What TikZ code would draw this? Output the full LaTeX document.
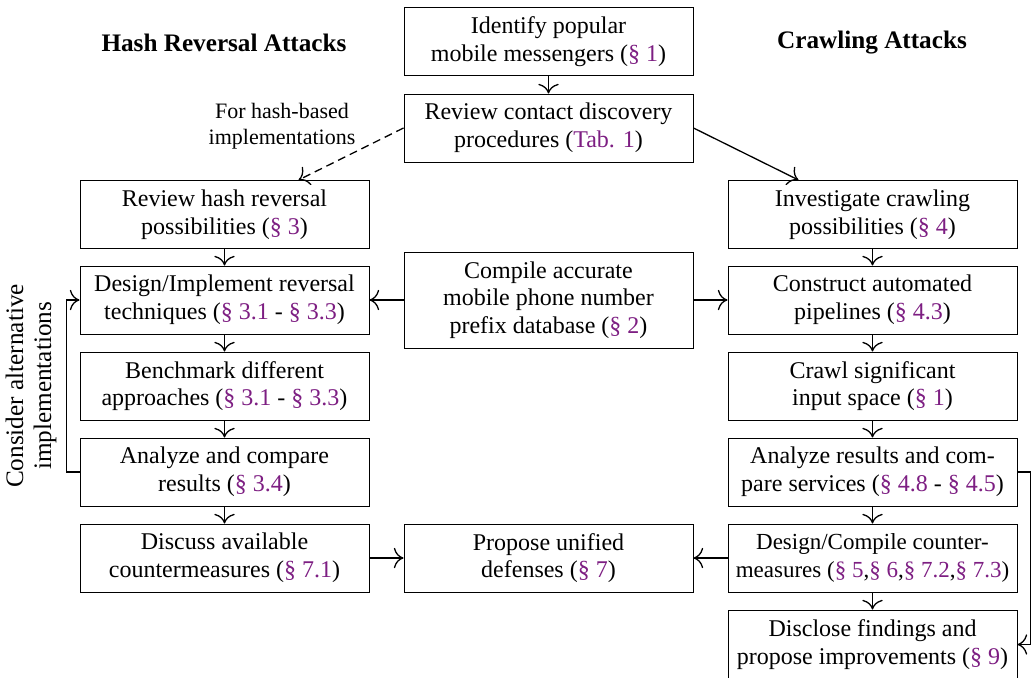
\documentclass[tikz,border=0pt]{standalone}
\usepackage{fontspec}
\setmainfont{Liberation Serif}
\usetikzlibrary{arrows.meta}
\definecolor{refpurple}{RGB}{125,30,130}
\newcommand{\rf}[1]{\textcolor{refpurple}{#1}}
\begin{document}
\begin{tikzpicture}[x=0.5pt,y=0.5pt,
  box/.style={draw, line width=0.5pt, minimum width=144.5pt, minimum height=34pt,
    align=center, inner sep=0pt, font=\fontsize{12}{13.8}\selectfont},
  arr/.style={-{To[scale=1.6]}, line width=0.65pt},
  head/.style={font=\bfseries\fontsize{12.6}{14}\selectfont},
  lbl/.style={align=center, font=\fontsize{11}{13}\selectfont},
  vlbl/.style={align=center, font=\fontsize{12.6}{14}\selectfont}]
\useasboundingbox (0,0) rectangle (1034,677);
% headings
\node[head] (hh) at (224,634) {Hash Reversal Attacks};
\node[head] (hc) at (872,634) {Crawling Attacks};
% middle column
\node[box] (ident) at (548.5,635.5) {Identify popular\\mobile messengers (\rf{§ 1})};
\node[box] (review) at (548.5,549) {Review contact discovery\\procedures (\rf{Tab. 1})};
\node[box, minimum height=48pt] (compile) at (548.5,377) {Compile accurate\\mobile phone number\\prefix database (\rf{§ 2})};
\node[box] (propose) at (548.5,119) {Propose unified\\defenses (\rf{§ 7})};
% left column
\node[box] (rhash) at (224.5,462.5) {Review hash reversal\\possibilities (\rf{§ 3})};
\node[box] (design) at (224.5,377) {Design/Implement reversal\\techniques (\rf{§ 3.1} - \rf{§ 3.3})};
\node[box] (bench) at (224.5,291) {Benchmark different\\approaches (\rf{§ 3.1} - \rf{§ 3.3})};
\node[box] (analyze) at (224.5,205) {Analyze and compare\\results (\rf{§ 3.4})};
\node[box] (discuss) at (224.5,119) {Discuss available\\countermeasures (\rf{§ 7.1})};
% right column
\node[box] (invest) at (872.5,462.5) {Investigate crawling\\possibilities (\rf{§ 4})};
\node[box] (construct) at (872.5,377) {Construct automated\\pipelines (\rf{§ 4.3})};
\node[box] (crawl) at (872.5,291) {Crawl significant\\input space (\rf{§ 1})};
\node[box] (analyzer) at (872.5,205) {Analyze results and com-\\pare services (\rf{§ 4.8} - \rf{§ 4.5})};
\node[box, font=\fontsize{11.5}{13.8}\selectfont] (designc) at (872.5,119) {Design/Compile counter-\\measures (\rf{§ 5},\rf{§ 6},\rf{§ 7.2},\rf{§ 7.3})};
\node[box, minimum height=34.5pt] (disclose) at (872.5,32.5) {Disclose findings and\\propose improvements (\rf{§ 9})};
% labels
\node[lbl] (forhash) at (282,551) {For hash-based\\implementations};
\node[vlbl, rotate=90] (consider) at (31,291) {Consider alternative\\implementations};
% connectors
\draw[arr] (ident) -- (review);
\draw[arr, dash pattern=on 4pt off 2.5pt] (review.west) -- ([xshift=37pt]rhash.north);
\draw[arr] (review.east) -- ([xshift=-37pt]invest.north);
\draw[arr] (rhash) -- (design);
\draw[arr] (design) -- (bench);
\draw[arr] (bench) -- (analyze);
\draw[arr] (analyze) -- (discuss);
\draw[arr] (compile.west) -- (design.east);
\draw[arr] (compile.east) -- (construct.west);
\draw[arr] (invest) -- (construct);
\draw[arr] (construct) -- (crawl);
\draw[arr] (crawl) -- (analyzer);
\draw[arr] (analyzer) -- (designc);
\draw[arr] (designc) -- (disclose);
\draw[arr] (discuss.east) -- (propose.west);
\draw[arr] (designc.west) -- (propose.east);
\draw[arr] (analyze.west) -- ++(-13,0) |- (design.west);
\draw[arr] (analyzer.east) -- ++(13,0) |- (disclose.east);
\end{tikzpicture}
\end{document}
